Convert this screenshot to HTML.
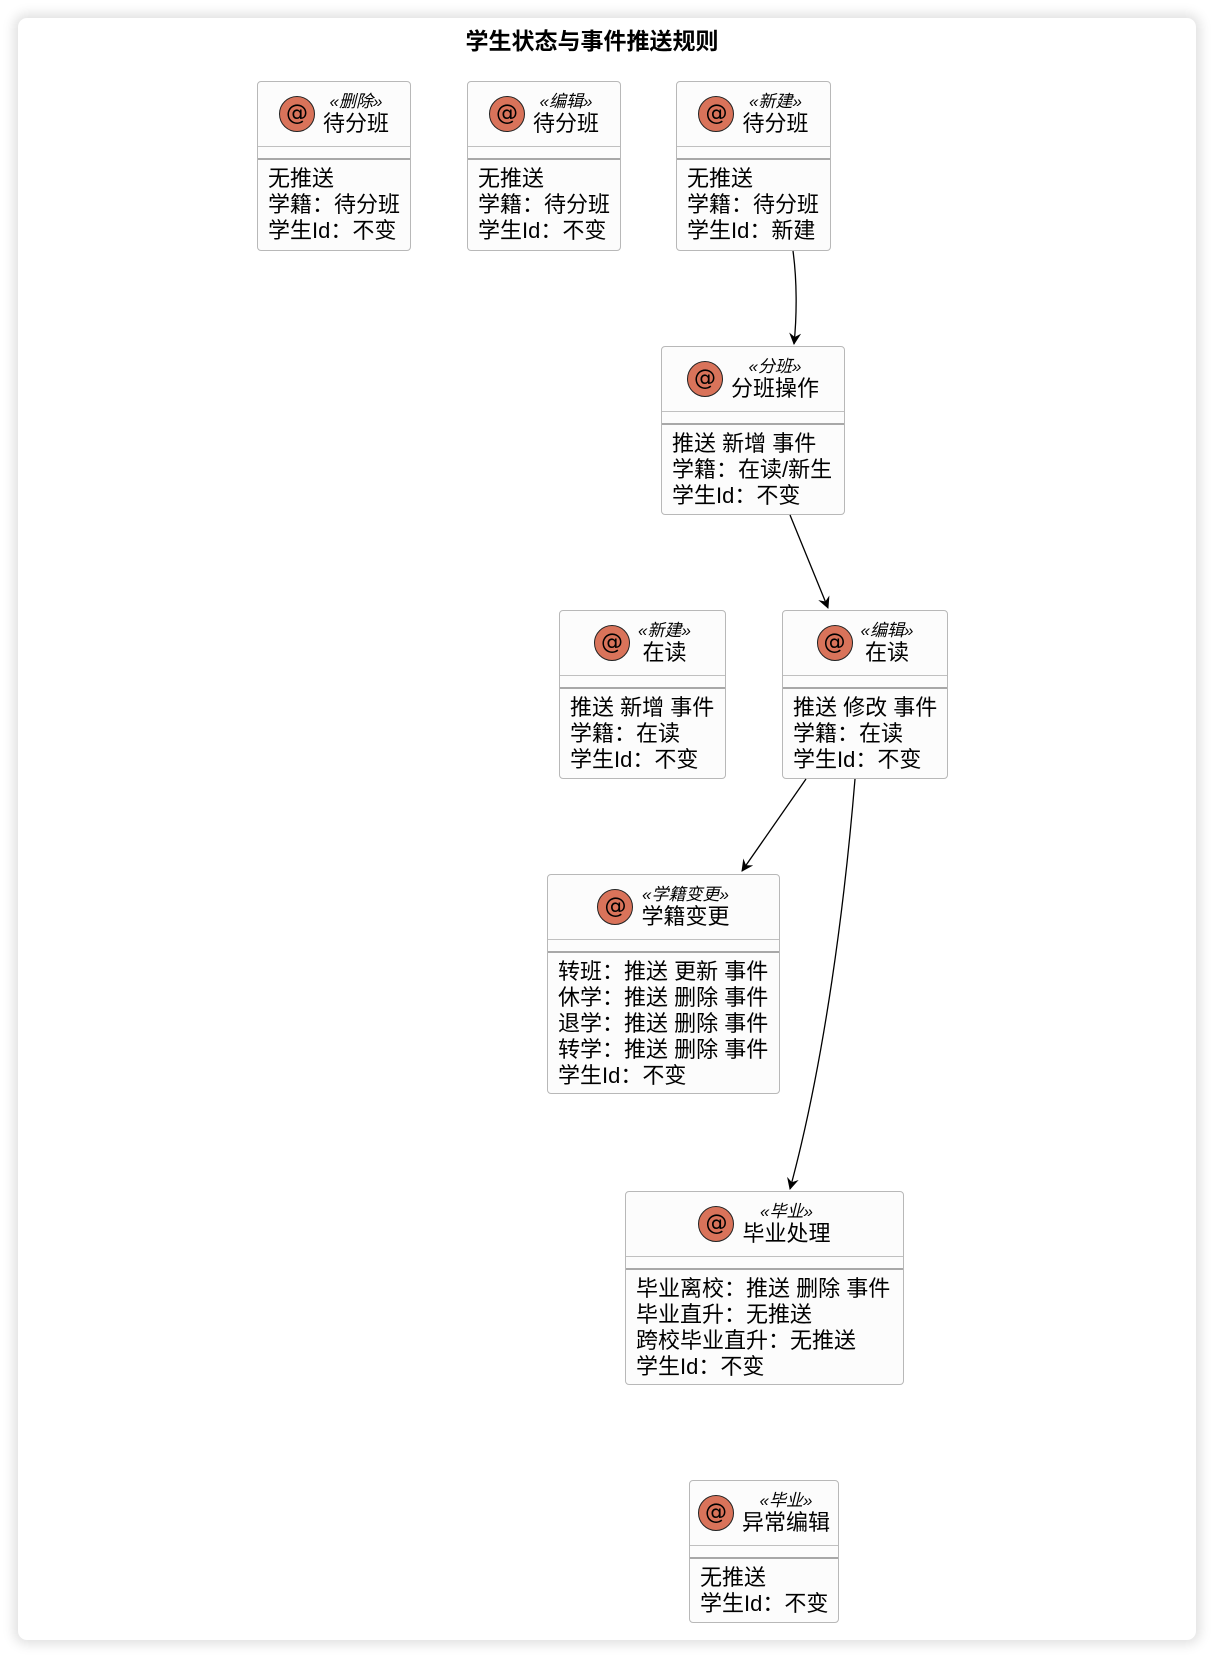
<!DOCTYPE html>
<html><head><meta charset="utf-8"><style>
html,body{margin:0;padding:0;background:#fff;}
body{width:1214px;height:1658px;position:relative;overflow:hidden;font-family:"Liberation Sans","Noto Sans CJK SC",sans-serif;}
.card{position:absolute;left:18px;top:18px;width:1178px;height:1622px;background:#fff;border-radius:9px;box-shadow:0 0 12px 4px rgba(0,0,0,0.13);}
.title{position:absolute;left:0;width:1184px;top:22px;text-align:center;font-size:23px;font-weight:bold;color:#000;}
.box{position:absolute;background:#fcfcfc;border:1.2px solid #b8b8b8;border-radius:4px;box-sizing:border-box;color:#000;}
.hd{position:relative;height:64px;border-bottom:1.2px solid #c0c0c0;display:flex;align-items:center;justify-content:center;}
.ic{width:36px;height:36px;border-radius:50%;background:#d9735a;border:1.3px solid #222;box-sizing:border-box;display:flex;align-items:center;justify-content:center;font-size:22px;font-family:"DejaVu Sans",sans-serif;margin-right:8px;flex:none;line-height:1;}
.tx{text-align:center;line-height:1;}
.st{font-size:17px;font-style:italic;margin-bottom:3px;}
.nm{font-size:22px;}
.sp{height:11px;border-bottom:2px solid #a8a8a8;}
.bd{padding:6px 0 0 10px;font-size:22px;line-height:26px;white-space:nowrap;}
svg{position:absolute;left:0;top:0;}
</style></head><body>
<div class="card"></div>
<div class="title">学生状态与事件推送规则</div>

<div class="box" style="left:257px;top:81px;width:154px;height:170px;">
 <div class="hd"><div class="ic">@</div><div class="tx"><div class="st">«删除»</div><div class="nm">待分班</div></div></div>
 <div class="sp"></div>
 <div class="bd">无推送<br>学籍：待分班<br>学生Id：不变</div>
</div>
<div class="box" style="left:467px;top:81px;width:154px;height:170px;">
 <div class="hd"><div class="ic">@</div><div class="tx"><div class="st">«编辑»</div><div class="nm">待分班</div></div></div>
 <div class="sp"></div>
 <div class="bd">无推送<br>学籍：待分班<br>学生Id：不变</div>
</div>
<div class="box" style="left:676px;top:81px;width:155px;height:170px;">
 <div class="hd"><div class="ic">@</div><div class="tx"><div class="st">«新建»</div><div class="nm">待分班</div></div></div>
 <div class="sp"></div>
 <div class="bd">无推送<br>学籍：待分班<br>学生Id：新建</div>
</div>

<div class="box" style="left:661px;top:346px;width:184px;height:169px;">
 <div class="hd"><div class="ic">@</div><div class="tx"><div class="st">«分班»</div><div class="nm">分班操作</div></div></div>
 <div class="sp"></div>
 <div class="bd">推送 新增 事件<br>学籍：在读/新生<br>学生Id：不变</div>
</div>

<div class="box" style="left:559px;top:610px;width:167px;height:169px;">
 <div class="hd"><div class="ic">@</div><div class="tx"><div class="st">«新建»</div><div class="nm">在读</div></div></div>
 <div class="sp"></div>
 <div class="bd">推送 新增 事件<br>学籍：在读<br>学生Id：不变</div>
</div>
<div class="box" style="left:782px;top:610px;width:166px;height:169px;">
 <div class="hd"><div class="ic">@</div><div class="tx"><div class="st">«编辑»</div><div class="nm">在读</div></div></div>
 <div class="sp"></div>
 <div class="bd">推送 修改 事件<br>学籍：在读<br>学生Id：不变</div>
</div>

<div class="box" style="left:547px;top:874px;width:233px;height:220px;">
 <div class="hd"><div class="ic">@</div><div class="tx"><div class="st">«学籍变更»</div><div class="nm">学籍变更</div></div></div>
 <div class="sp"></div>
 <div class="bd">转班：推送 更新 事件<br>休学：推送 删除 事件<br>退学：推送 删除 事件<br>转学：推送 删除 事件<br>学生Id：不变</div>
</div>

<div class="box" style="left:625px;top:1191px;width:279px;height:194px;">
 <div class="hd"><div class="ic">@</div><div class="tx"><div class="st">«毕业»</div><div class="nm">毕业处理</div></div></div>
 <div class="sp"></div>
 <div class="bd">毕业离校：推送 删除 事件<br>毕业直升：无推送<br>跨校毕业直升：无推送<br>学生Id：不变</div>
</div>

<div class="box" style="left:689px;top:1480px;width:150px;height:143px;">
 <div class="hd"><div class="ic">@</div><div class="tx"><div class="st">«毕业»</div><div class="nm">异常编辑</div></div></div>
 <div class="sp"></div>
 <div class="bd">无推送<br>学生Id：不变</div>
</div>

<svg width="1214" height="1658" viewBox="0 0 1214 1658">
 <defs><marker id="a" markerWidth="14" markerHeight="14" refX="11" refY="6" orient="auto" markerUnits="userSpaceOnUse"><path d="M0,0 L12,6 L0,12 L4,6 Z" fill="#000"/></marker></defs>
 <g fill="none" stroke="#000" stroke-width="1.3">
  <path d="M793,251 C797,280 797,315 794,344" marker-end="url(#a)"/>
  <path d="M790,515 L828,608" marker-end="url(#a)"/>
  <path d="M806,779 L742,871" marker-end="url(#a)"/>
  <path d="M855,779 C845,900 825,1060 790,1189" marker-end="url(#a)"/>
 </g>
</svg>
</body></html>
